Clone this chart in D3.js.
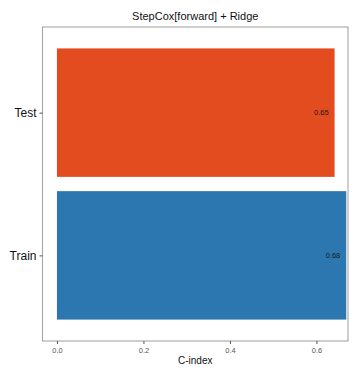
<!DOCTYPE html>
<html><head><meta charset="utf-8">
<script src="https://cdn.jsdelivr.net/npm/d3@7"></script>
<style>body{margin:0;background:#fff}svg{display:block}</style>
</head><body>
<script>
const categories = ["Test", "Train"];
const values = [0.642, 0.669];
const labels = ["0.65", "0.68"];
const colors = ["#E24C1F", "#2D77B1"];
const xTicks = [0, 0.2, 0.4, 0.6];
const title = "StepCox[forward] + Ridge";
const xTitle = "C-index";

const W = 360, H = 373;
const m = {left: 42.5, right: 12, top: 27, bottom: 32};
const svg = d3.select("body").append("svg").attr("width", W).attr("height", H);

const x = d3.scaleLinear().domain([-0.0334, 0.673]).range([m.left, W - m.right]);
const y = d3.scaleBand().domain(categories).range([m.top, H - m.bottom]).paddingInner(0.1/1.0).paddingOuter(0);
// ggplot-like discrete expansion: 0.6 units each side, bar width 0.9
const n = categories.length;
const unit = (H - m.bottom - m.top) / (n - 1 + 1.2);
const yc = c => m.top + unit * (0.6 + categories.indexOf(c));
const bh = unit * 0.9;

svg.selectAll("rect.bar").data(categories).join("rect")
  .attr("x", x(0)).attr("y", (d) => yc(d) - bh/2)
  .attr("width", (d,i) => x(values[i]) - x(0)).attr("height", bh)
  .attr("fill", (d,i) => colors[i]);

svg.selectAll("text.val").data(categories).join("text")
  .attr("x", (d,i) => x(values[i]) - 6).attr("y", d => yc(d))
  .attr("dy", "0.35em").attr("text-anchor", "end")
  .attr("font-family", "Liberation Sans, Arial, sans-serif").attr("font-size", 7.5)
  .attr("fill", "#1a1a1a").text((d,i) => labels[i]);

// panel border
svg.append("rect").attr("x", m.left).attr("y", m.top)
  .attr("width", W - m.right - m.left).attr("height", H - m.bottom - m.top)
  .attr("fill", "none").attr("stroke", "#A6A6A6").attr("stroke-width", 1.1);

// x axis
const xa = svg.append("g").attr("transform", `translate(0,${H - m.bottom})`)
  .call(d3.axisBottom(x).tickValues(xTicks).tickFormat(d3.format(".1f")).tickSize(3).tickPadding(4));
xa.select(".domain").remove();
xa.selectAll("line").attr("stroke", "#555");
xa.selectAll("text").attr("font-family", "Liberation Sans, Arial, sans-serif").attr("font-size", 7.5).attr("fill", "#555");

// y axis
const ya = svg.append("g").attr("transform", `translate(${m.left},0)`)
  .call(d3.axisLeft(d3.scalePoint().domain(categories).range([yc(categories[0]), yc(categories[n-1])])).tickSize(3).tickPadding(3));
ya.select(".domain").remove();
ya.selectAll("line").attr("stroke", "#555");
ya.selectAll("text").attr("font-family", "Liberation Sans, Arial, sans-serif").attr("font-size", 12).attr("fill", "#111");

svg.append("text").attr("x", (m.left + W - m.right)/2).attr("y", 20)
  .attr("text-anchor", "middle").attr("font-family", "Liberation Sans, Arial, sans-serif")
  .attr("font-size", 11).attr("fill", "#111").text(title);

svg.append("text").attr("x", (m.left + W - m.right)/2).attr("y", 364)
  .attr("text-anchor", "middle").attr("font-family", "Liberation Sans, Arial, sans-serif")
  .attr("font-size", 10).attr("fill", "#111").text(xTitle);
</script>
</body></html>
